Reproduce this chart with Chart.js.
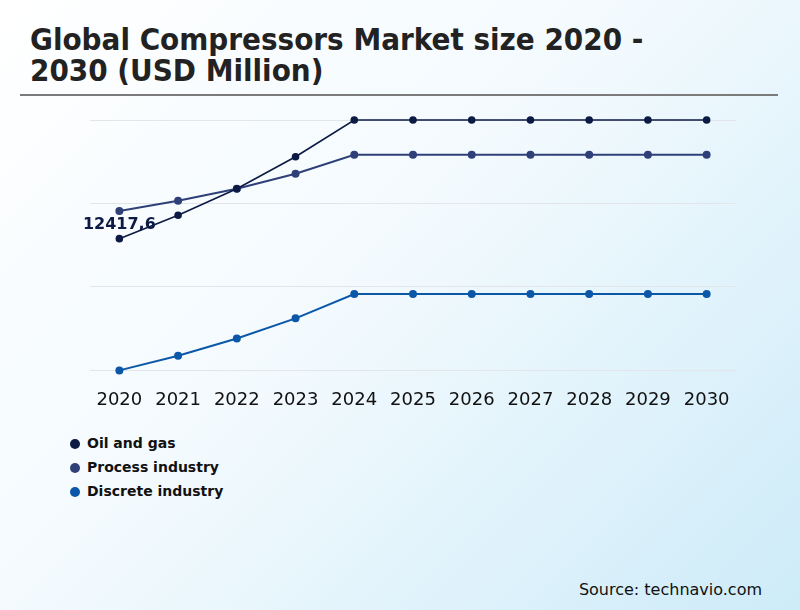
<!DOCTYPE html>
<html>
<head>
<meta charset="utf-8">
<script src="https://cdn.jsdelivr.net/npm/chart.js@4/dist/chart.umd.min.js"></script>
<style>
  html, body { margin: 0; padding: 0; }
  body {
    width: 800px; height: 610px; overflow: hidden; position: relative;
    background: linear-gradient(135deg, #ffffff 0%, #f3fafe 45%, #cdebf8 100%);
    font-family: "DejaVu Sans", sans-serif;
  }
  h1 {
    position: absolute; left: 30px; top: 24px; margin: 0;
    font-family: "DejaVu Sans Condensed", "DejaVu Sans", sans-serif;
    font-stretch: condensed;
    font-weight: bold; font-size: 31px; line-height: 31px; color: #222;
  }
  .rule { position: absolute; left: 20px; top: 94px; width: 758px; height: 2px; background: #7b7b7b; }
  .chart-box { position: absolute; left: 0; top: 100px; width: 800px; height: 330px; }
  #legend { position: absolute; left: 70px; top: 433px; margin: 0; padding: 0; list-style: none; }
  #legend li { font-weight: bold; font-size: 14px; height: 24px; line-height: 20px; color: #111; }
  #legend span { display: inline-block; width: 10px; height: 10px; border-radius: 50%; margin-right: 7px; vertical-align: -1px; }
  .source { position: absolute; right: 38px; top: 580px; font-size: 16px; color: #111; }
</style>
</head>
<body>
<h1>Global Compressors Market size 2020 -<br>2030 (USD Million)</h1>
<div class="rule"></div>
<div class="chart-box"><canvas id="chart"></canvas></div>
<ul id="legend"></ul>
<div class="source">Source: technavio.com</div>
<script>
const years = ['2020', '2021', '2022', '2023', '2024', '2025', '2026', '2027', '2028', '2029', '2030'];
const oilGas = [12417.6, 13740, 15225, 17030, 19100, 19100, 19100, 19100, 19100, 19100, 19100];
const processIndustry = [13970, 14550, 15225, 16070, 17140, 17140, 17140, 17140, 17140, 17140, 17140];
const discreteIndustry = [5000, 5830, 6800, 7930, 9300, 9300, 9300, 9300, 9300, 9300, 9300];
const seriesNames = ['Oil and gas', 'Process industry', 'Discrete industry'];
const seriesColors = ['#0c1a44', '#2f4079', '#0b57a8'];
const firstLabel = '12417,6';

// label over the first oil & gas point
const firstValuePlugin = {
  id: 'firstValue',
  afterDatasetsDraw(chart) {
    const pt = chart.getDatasetMeta(0).data[0];
    const ctx = chart.ctx;
    ctx.save();
    ctx.font = 'bold 16px "DejaVu Sans"';
    ctx.fillStyle = seriesColors[0];
    ctx.textAlign = 'center';
    ctx.textBaseline = 'middle';
    ctx.fillText(firstLabel, pt.x, pt.y - 14);
    ctx.restore();
  }
};

const datasets = [oilGas, processIndustry, discreteIndustry].map((d, i) => ({
  label: seriesNames[i],
  data: d,
  borderColor: seriesColors[i],
  backgroundColor: seriesColors[i],
  pointBackgroundColor: seriesColors[i],
  borderWidth: i === 0 ? 1.6 : 2,
  pointRadius: 3,
  tension: 0,
  clip: false
}));

new Chart(document.getElementById('chart'), {
  type: 'line',
  data: { labels: years, datasets },
  options: {
    responsive: true,
    maintainAspectRatio: false,
    animation: false,
    layout: { padding: { left: 90, right: 64, top: 20, bottom: 8 } },
    plugins: { legend: { display: false }, tooltip: { enabled: false } },
    scales: {
      x: {
        offset: true,
        grid: { display: false },
        border: { display: false },
        ticks: { color: '#111', font: { family: 'DejaVu Sans', size: 18 }, padding: 11 }
      },
      y: {
        min: 5000, max: 19100,
        border: { display: false },
        grid: { color: '#e2e6ea', drawTicks: false },
        ticks: { display: false, stepSize: 4700 }
      }
    }
  },
  plugins: [firstValuePlugin]
});

document.getElementById('legend').innerHTML = seriesNames
  .map((n, i) => `<li><span style="background:${seriesColors[i]}"></span>${n}</li>`)
  .join('');
</script>
</body>
</html>
